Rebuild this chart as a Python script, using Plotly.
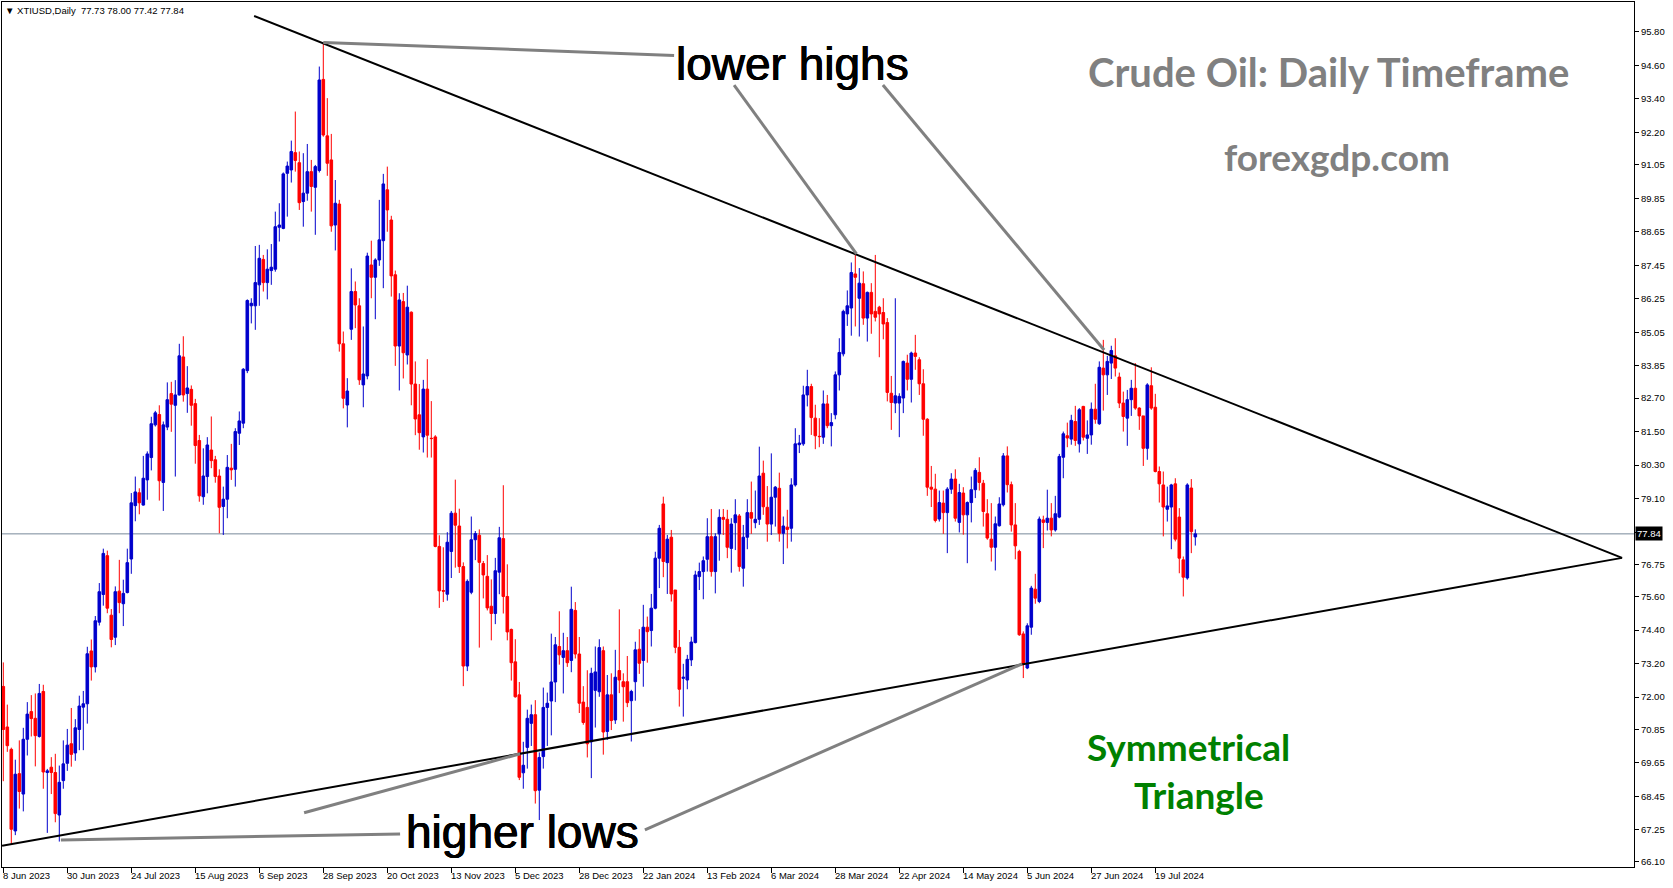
import plotly.graph_objects as go

# ---------------- data ----------------
opens = [72.38,70.93,70.13,67.21,69.26,68.53,70.49,71.48,71.24,70.59,72.20,69.30,69.49,69.30,67.78,69.01,69.63,70.33,70.00,70.84,
71.64,71.76,73.65,73.08,74.68,75.67,77.06,74.93,74.14,75.79,75.34,75.74,76.94,78.85,79.31,78.87,79.77,80.57,81.74,82.11,
79.68,81.66,82.86,82.44,82.81,84.17,82.86,83.01,82.50,81.18,79.17,79.89,80.84,80.49,79.91,78.82,79.08,80.19,80.15,81.44,
81.80,83.68,86.00,86.00,86.75,87.66,86.83,87.26,87.31,88.81,88.77,90.74,90.86,91.48,91.12,89.73,90.03,90.80,90.24,90.84,
94.10,92.08,91.22,88.89,89.64,84.64,82.45,85.16,86.51,86.00,83.17,83.49,87.46,87.02,87.64,88.33,90.15,89.07,87.11,84.56,
86.15,84.24,85.77,83.20,82.10,81.31,83.02,81.26,81.31,77.39,75.81,75.68,77.21,78.58,78.12,76.67,73.11,75.75,77.63,77.79,
76.78,76.32,75.25,74.99,76.47,77.67,75.60,74.42,73.26,72.08,69.29,70.20,71.06,71.37,68.67,69.87,71.63,71.86,72.54,73.81,
73.42,73.66,73.31,75.10,73.54,71.82,71.63,70.40,72.24,72.19,73.66,70.77,72.08,71.18,72.95,72.55,72.55,71.87,72.55,73.71,
73.31,74.50,74.38,75.18,76.97,78.91,76.81,77.72,75.83,73.78,72.67,72.61,73.33,73.95,76.31,76.49,76.93,77.74,76.49,77.84,
78.43,78.36,77.32,78.24,78.48,76.61,77.72,78.60,78.24,78.36,80.01,78.79,78.19,79.15,79.47,77.86,78.08,78.04,79.59,81.03,
81.06,82.81,83.11,81.98,81.33,81.30,82.49,81.71,82.10,83.53,84.28,85.71,85.92,87.14,86.27,86.79,85.56,86.48,85.80,85.95,
85.76,85.40,82.87,82.52,82.52,82.70,83.95,83.37,84.31,84.07,83.21,81.94,79.51,79.44,78.37,78.94,78.60,79.44,79.80,78.25,
79.30,78.52,78.96,79.42,80.04,79.65,78.56,77.65,77.36,78.13,78.88,80.63,79.60,78.16,77.21,74.26,73.04,74.50,75.86,75.42,
78.34,78.25,78.40,77.98,78.44,80.58,81.35,81.23,81.86,81.06,82.40,81.26,81.38,82.30,81.78,83.77,83.53,83.95,84.21,83.45,
82.52,81.98,82.64,83.05,82.34,82.06,80.90,83.14,82.37,80.07,79.59,78.72,78.80,79.63,78.44,76.91,76.26,79.48,77.73]
highs = [73.24,71.73,70.19,69.76,70.45,70.90,71.82,72.07,72.13,72.47,72.44,69.43,69.85,69.97,69.55,70.45,70.86,71.61,71.21,72.05,
72.22,73.80,74.06,74.90,76.08,77.31,77.24,75.15,75.96,76.91,76.20,77.31,79.30,79.89,79.47,80.63,80.79,82.03,82.24,82.44,
81.86,83.26,83.28,83.34,84.64,84.91,83.84,83.15,82.67,81.38,80.90,81.30,82.04,80.63,80.15,79.53,80.66,81.06,81.62,82.22,
83.77,86.23,86.27,88.14,88.18,87.82,88.02,88.21,89.37,89.67,90.77,91.16,91.91,92.95,91.52,91.46,91.79,91.22,91.04,94.56,
95.42,93.43,92.15,90.50,89.79,85.08,83.41,87.34,86.87,86.27,85.26,87.90,88.33,87.70,89.79,90.72,90.98,89.22,87.26,86.45,
86.46,86.72,85.80,84.01,83.20,83.35,84.09,82.59,81.37,77.79,77.36,77.90,78.66,79.78,78.74,76.82,76.21,78.46,77.94,78.00,
76.87,77.08,76.21,76.98,78.09,79.58,76.75,74.45,74.07,72.54,70.40,71.55,71.73,71.89,70.02,72.34,72.16,74.27,74.15,75.07,
74.30,74.15,75.95,75.40,74.15,72.39,72.96,73.05,73.81,74.07,73.81,72.79,72.85,73.69,75.14,72.85,73.47,72.26,73.98,74.43,
75.30,74.88,75.69,77.20,78.16,79.17,77.80,77.98,75.83,74.40,73.19,73.51,74.16,76.52,76.81,77.03,78.40,78.73,77.86,78.72,
78.73,78.70,78.40,79.08,78.55,78.16,79.08,79.71,79.39,80.96,80.46,79.55,80.72,79.55,80.03,78.46,78.70,79.83,81.62,81.38,
83.14,83.71,83.21,82.46,81.98,82.97,82.81,82.16,83.65,84.84,85.86,86.55,87.55,87.86,87.35,87.23,86.51,86.81,87.82,86.00,
86.27,85.56,83.49,86.27,82.87,84.04,84.25,84.36,84.96,84.16,83.73,81.98,80.27,79.99,79.39,79.39,79.51,80.01,80.15,79.63,
79.51,79.00,79.89,80.19,80.58,79.77,79.08,78.94,78.46,79.15,80.73,80.97,79.71,78.94,77.27,74.35,74.64,75.98,76.41,78.46,
78.49,79.42,78.94,79.20,80.70,81.50,81.82,82.10,82.42,82.34,82.42,81.90,82.54,83.21,84.01,84.78,84.21,84.57,84.84,83.61,
82.93,82.99,83.35,83.95,82.37,82.06,83.23,83.80,82.85,80.25,80.07,79.53,79.63,79.83,78.76,77.03,79.65,79.80,78.00]
lows = [68.99,70.04,66.71,67.06,68.01,67.91,69.91,70.59,69.52,70.55,68.72,67.14,68.53,67.52,66.83,68.72,69.36,69.51,69.72,70.10,
70.10,71.05,72.59,72.88,74.56,75.27,75.00,73.78,73.86,75.00,74.54,75.71,76.41,78.29,78.54,78.85,79.06,80.11,81.68,79.03,
78.66,81.55,81.49,79.89,82.79,82.57,82.17,81.71,80.35,78.99,78.88,79.29,80.19,79.67,77.86,77.80,78.40,79.77,79.53,81.02,
81.62,83.59,85.37,85.14,86.00,86.51,86.23,86.75,87.22,88.30,88.74,89.19,90.41,90.80,89.43,88.83,89.76,89.37,88.54,90.77,
92.05,90.65,88.65,87.98,84.36,82.33,81.65,84.78,85.20,83.17,82.37,83.37,86.27,85.52,87.43,86.63,88.65,86.33,83.85,82.97,
83.40,83.90,82.44,81.37,80.85,80.75,80.57,80.57,77.36,75.19,75.40,75.45,76.26,76.63,76.44,72.39,72.93,75.68,76.90,73.77,
75.53,75.10,74.03,74.61,75.68,74.99,74.03,72.59,71.98,69.03,68.72,69.44,70.25,68.19,67.60,69.44,70.25,70.63,71.82,73.16,
72.13,73.08,72.89,73.38,71.43,71.01,69.84,69.10,70.91,72.01,69.94,70.47,70.82,71.04,72.14,71.12,71.64,70.41,71.87,72.83,
72.37,73.23,73.81,75.14,75.90,76.29,75.69,75.42,73.57,71.66,71.30,72.28,73.11,73.92,75.83,75.50,76.49,76.31,75.71,76.88,
77.80,76.97,76.45,77.26,76.49,75.95,77.29,77.84,78.04,78.16,78.52,77.56,77.80,78.10,77.56,76.76,77.32,77.56,79.53,80.73,
80.99,82.40,81.38,80.87,80.94,81.06,81.62,80.97,81.94,82.97,84.19,85.28,84.93,85.26,84.90,85.32,84.72,85.00,85.44,84.16,
84.80,82.58,81.56,82.16,81.30,82.16,82.97,82.54,83.71,82.81,81.35,79.20,78.80,78.25,78.28,77.84,77.15,79.27,78.28,77.89,
77.81,76.79,78.25,79.12,79.39,78.10,77.63,76.85,76.53,78.10,78.82,79.32,77.92,76.93,74.19,72.68,73.00,74.23,75.34,75.36,
77.33,77.96,77.75,77.92,78.40,79.83,80.94,81.03,80.99,80.75,81.18,80.70,81.03,81.78,81.74,82.25,82.81,83.38,83.47,82.34,
81.50,80.99,82.06,82.28,81.56,80.27,80.49,82.28,80.04,78.96,77.75,78.28,77.29,77.57,76.43,75.60,76.20,77.15,77.42]
closes = [70.84,70.26,67.27,69.24,68.62,70.49,71.39,71.23,70.62,72.13,69.32,69.36,69.30,67.83,68.95,69.61,70.28,69.95,70.90,71.68,
71.76,73.55,73.08,74.73,75.77,77.14,75.18,74.06,75.77,75.38,75.71,76.81,78.95,79.34,78.95,79.83,80.70,81.78,82.17,79.74,
81.74,82.64,82.48,82.81,84.21,82.81,83.06,82.44,81.00,79.20,79.91,81.02,80.46,79.89,78.79,79.08,80.22,80.13,81.50,81.88,
83.73,86.19,86.09,86.83,87.70,86.83,87.31,87.38,88.83,88.89,90.72,91.00,91.52,91.20,89.69,90.03,90.80,90.27,90.98,94.08,
92.11,91.10,88.86,89.67,84.64,82.69,82.95,86.51,86.03,83.35,83.56,87.78,87.02,87.64,88.36,90.36,89.43,87.07,84.56,86.21,
84.32,85.95,83.20,81.95,81.46,83.02,81.37,81.25,77.39,75.80,75.79,77.54,78.58,78.15,76.67,73.11,76.14,77.63,77.85,76.82,
76.37,75.19,74.99,76.52,77.70,75.60,74.33,73.23,72.01,69.13,69.56,71.24,71.37,68.65,69.84,71.63,71.78,72.54,73.87,73.51,
73.66,73.23,75.14,73.54,71.78,71.09,70.33,72.85,72.90,73.77,70.75,72.08,71.16,72.71,72.61,72.37,71.80,72.20,73.69,73.21,
74.50,74.34,75.18,76.97,78.04,76.85,77.65,75.69,73.78,72.28,72.71,73.35,73.97,76.37,76.49,76.88,77.74,76.49,77.74,78.43,
78.36,77.36,78.19,78.52,76.67,77.72,78.60,78.40,78.36,79.91,78.81,78.19,79.15,79.51,77.86,78.12,78.00,79.59,81.06,81.09,
82.81,83.11,82.00,81.35,81.32,82.49,81.71,81.82,83.53,84.33,85.80,86.00,87.19,87.02,86.81,85.56,86.48,85.71,85.59,85.71,
85.35,82.90,82.54,82.78,82.76,84.01,83.37,84.31,84.19,83.21,81.94,79.51,79.44,78.32,78.96,78.60,79.44,79.80,78.40,79.32,
78.52,78.96,79.42,80.11,79.68,78.64,77.69,77.36,78.20,78.91,80.63,79.60,78.16,77.41,74.23,73.19,74.55,75.90,75.54,78.37,
78.25,78.40,77.98,78.56,80.61,81.42,81.27,81.90,81.18,82.28,81.30,81.38,82.30,81.94,83.80,83.53,84.01,84.40,83.77,82.52,
82.04,82.64,83.05,82.34,82.06,80.90,83.17,82.34,80.07,79.63,78.80,78.84,79.59,77.65,76.97,76.29,79.59,77.92,77.84]

bar_index = list(range(len(closes)))

date_tick_idx = [0,16,32,48,64,80,96,112,128,144,160,176,192,208,224,240,256,272,288]
date_tick_text = ["8 Jun 2023","30 Jun 2023","24 Jul 2023","15 Aug 2023","6 Sep 2023","28 Sep 2023",
                  "20 Oct 2023","13 Nov 2023","5 Dec 2023","28 Dec 2023","22 Jan 2024","13 Feb 2024",
                  "6 Mar 2024","28 Mar 2024","22 Apr 2024","14 May 2024","5 Jun 2024","27 Jun 2024","19 Jul 2024"]

price_ticks = [95.80,94.60,93.40,92.20,91.05,89.85,88.65,87.45,86.25,85.05,83.85,82.70,81.50,80.30,79.10,
               77.90,76.75,75.60,74.40,73.20,72.00,70.85,69.65,68.45,67.25,66.10]
# the 77.90 label sits under the current-price box in the reference
price_tick_text = ["" if abs(v - 77.90) < 1e-9 else "%.2f" % v for v in price_ticks]

last_price = 77.84
header_text = "▼ XTIUSD,Daily  77.73 78.00 77.42 77.84"

# trend lines (bar index, price)
resistance_line = [(62.7, 96.37), (404.7, 76.98)]
support_line = [(-0.3, 66.68), (404.7, 76.98)]
# gray pointer lines
pointer_lines = [
    [(80.0, 95.42), (167.7, 94.96)],
    [(182.7, 93.90), (213.3, 87.86)],
    [(219.9, 93.90), (275.2, 84.42)],
    [(14.4, 66.89), (99.2, 67.10)],
    [(75.2, 67.86), (129.2, 69.97)],
    [(160.4, 67.25), (254.7, 73.19)],
]

BLUE = "#0000CC"
RED = "#FF0000"
FONT = "Liberation Sans"
HEAVY = "0.5px 0 0 black, -0.5px 0 0 black, 0 0.4px 0 black"

fig = go.Figure()
fig.add_trace(go.Candlestick(
    x=bar_index, open=opens, high=highs, low=lows, close=closes,
    increasing=dict(line=dict(color=BLUE, width=1), fillcolor=BLUE),
    decreasing=dict(line=dict(color=RED, width=1), fillcolor=RED),
    whiskerwidth=0, hoverinfo="skip", showlegend=False,
))

shapes = []
shapes.append(dict(type="line", xref="paper", yref="y", x0=0, x1=1, y0=last_price, y1=last_price,
                   line=dict(color="#778899", width=1), layer="below"))
for (a, b) in [resistance_line, support_line]:
    shapes.append(dict(type="line", xref="x", yref="y", x0=a[0], y0=a[1], x1=b[0], y1=b[1],
                       line=dict(color="black", width=2)))
for (a, b) in pointer_lines:
    shapes.append(dict(type="line", xref="x", yref="y", x0=a[0], y0=a[1], x1=b[0], y1=b[1],
                       line=dict(color="#808080", width=3)))

ann = []
for i, t in zip(date_tick_idx, date_tick_text):
    ann.append(dict(x=i, y=0, xref="x", yref="paper", text=t, showarrow=False,
                    xanchor="left", yanchor="top", xshift=-2, yshift=-1,
                    font=dict(family=FONT, size=9.5, color="black")))
ann.append(dict(x=0, y=0.9896, xref="paper", yref="paper", text=header_text, showarrow=False,
                xanchor="left", yanchor="middle", xshift=1,
                font=dict(family=FONT, size=9.5, color="black")))
ann.append(dict(x=1, y=last_price, xref="paper", yref="y", text="77.84", showarrow=False,
                xanchor="left", yanchor="middle", xshift=1, bgcolor="black", borderpad=1,
                font=dict(family=FONT, size=9.5, color="white")))
ann.append(dict(x=197.2, y=94.66, xref="x", yref="y", text="lower highs", showarrow=False,
                font=dict(family=FONT, size=46, color="black", shadow=HEAVY)))
ann.append(dict(x=129.9, y=67.18, xref="x", yref="y", text="higher lows", showarrow=False,
                font=dict(family=FONT, size=46, color="black", shadow=HEAVY)))
ann.append(dict(x=331.2, y=94.37, xref="x", yref="y", text="<b>Crude Oil: Daily Timeframe</b>", showarrow=False,
                font=dict(family="Lato", size=40, color="#808080")))
ann.append(dict(x=333.4, y=91.33, xref="x", yref="y", text="<b>forexgdp.com</b>", showarrow=False,
                font=dict(family="Lato", size=37, color="#808080")))
ann.append(dict(x=296.4, y=70.22, xref="x", yref="y", text="<b>Symmetrical</b>", showarrow=False,
                font=dict(family="Lato", size=37, color="#008000")))
ann.append(dict(x=298.9, y=68.50, xref="x", yref="y", text="<b>Triangle</b>", showarrow=False,
                font=dict(family="Lato", size=37, color="#008000")))

fig.update_layout(
    width=1673, height=888,
    margin=dict(l=2, r=39, t=2, b=21),
    paper_bgcolor="white", plot_bgcolor="white",
    showlegend=False, boxgap=0.35, boxgroupgap=0,
    shapes=shapes, annotations=ann,
    xaxis=dict(range=[-0.325, 407.675], showgrid=False, zeroline=False, showline=True, mirror=True,
               linecolor="black", linewidth=1, ticks="outside", ticklen=5, tickcolor="black",
               tickvals=date_tick_idx, showticklabels=False, rangeslider=dict(visible=False),
               fixedrange=True),
    yaxis=dict(side="right", range=[65.92, 96.87], showgrid=False, zeroline=False, showline=True,
               mirror=True, linecolor="black", linewidth=1, ticks="outside", ticklen=4,
               tickcolor="black", tickvals=price_ticks, ticktext=price_tick_text,
               tickfont=dict(family=FONT, size=9.5, color="black"), fixedrange=True),
)

fig.write_html("out.html", config={"displayModeBar": False},
               post_script="document.body.style.margin='0';document.body.style.overflow='hidden';")
